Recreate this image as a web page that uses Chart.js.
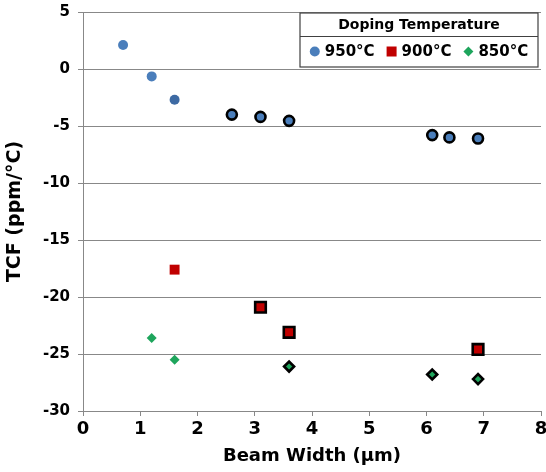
<!DOCTYPE html>
<html><head><meta charset="utf-8">
<script src="https://cdn.jsdelivr.net/npm/chart.js@4.4.0/dist/chart.umd.min.js"></script>
<style>html,body{margin:0;padding:0;background:#fff}#wrap{width:546px;height:472px;position:relative}</style>
</head><body><div id="wrap"><canvas id="c"></canvas></div>
<script>
const legendTitle = 'Doping Temperature';
const seriesLabels = ['950°C', '900°C', '850°C'];
const xAxisTitle = 'Beam Width (µm)';
const yAxisTitle = 'TCF (ppm/°C)';
const xTickValues = [0, 1, 2, 3, 4, 5, 6, 7, 8];
const yTickValues = [5, 0, -5, -10, -15, -20, -25, -30];

// markers without outline
const beam950Plain = [0.7, 1.2, 1.6];
const tcf950Plain = [2.1, -0.65, -2.7];
const beam900Plain = [1.6];
const tcf900Plain = [-17.6];
const beam850Plain = [1.2, 1.6];
const tcf850Plain = [-23.6, -25.5];
// markers with black outline
const beam950Outlined = [2.6, 3.1, 3.6, 6.1, 6.4, 6.9];
const tcf950Outlined = [-4.0, -4.2, -4.55, -5.8, -6.0, -6.1];
const beam900Outlined = [3.1, 3.6, 6.9];
const tcf900Outlined = [-20.9, -23.1, -24.6];
const beam850Outlined = [3.6, 6.1, 6.9];
const tcf850Outlined = [-26.1, -26.8, -27.2];

const pts = (xs, ys) => xs.map((x, i) => ({x: x, y: ys[i]}));
const FONT = '"DejaVu Sans", sans-serif';
const BLUE = '#4a7ebb', RED = '#c00000', GREEN = '#1ea55c';

const datasets = [
  {label: seriesLabels[0], data: pts(beam950Plain, tcf950Plain), pointStyle: 'circle', pointRadius: 5,
   backgroundColor: [BLUE, BLUE, '#3d6aa3'], borderWidth: 0, legend: true},
  {label: seriesLabels[0], data: pts(beam950Outlined, tcf950Outlined), pointStyle: 'circle', pointRadius: 5,
   backgroundColor: BLUE, borderColor: '#000', borderWidth: 2.6},
  {label: seriesLabels[1], data: pts(beam900Plain, tcf900Plain), pointStyle: 'rect', pointRadius: 7,
   backgroundColor: RED, borderWidth: 0, legend: true},
  {label: seriesLabels[1], data: pts(beam900Outlined, tcf900Outlined), pointStyle: 'rect', pointRadius: 7.5,
   backgroundColor: RED, borderColor: '#000', borderWidth: 2.6},
  {label: seriesLabels[2], data: pts(beam850Plain, tcf850Plain), pointStyle: 'rectRot', pointRadius: 5,
   backgroundColor: GREEN, borderWidth: 0, legend: true},
  {label: seriesLabels[2], data: pts(beam850Outlined, tcf850Outlined), pointStyle: 'rectRot', pointRadius: 5,
   backgroundColor: GREEN, borderColor: '#000', borderWidth: 2.6}
];
datasets.forEach(d => { d.pointHoverRadius = d.pointRadius; d.pointBorderWidth = d.borderWidth; });

const boxLegend = {
  id: 'boxLegend',
  afterDraw(chart) {
    const ctx = chart.ctx, a = chart.chartArea;
    const bw = 238, bh = 54;
    const bx = a.right - 3 - bw, by = a.top + 1;
    ctx.save();
    ctx.fillStyle = '#fff';
    ctx.fillRect(bx, by, bw, bh);
    ctx.strokeStyle = '#404040';
    ctx.lineWidth = 1.2;
    ctx.strokeRect(bx, by, bw, bh);
    ctx.beginPath();
    ctx.moveTo(bx, by + 23.5); ctx.lineTo(bx + bw, by + 23.5); ctx.stroke();
    ctx.fillStyle = '#000';
    ctx.textBaseline = 'middle';
    ctx.textAlign = 'center';
    ctx.font = 'bold 14px ' + FONT;
    ctx.fillText(legendTitle, bx + bw / 2, by + 12);
    ctx.font = 'bold 15px ' + FONT;
    ctx.textAlign = 'left';
    const items = chart.data.datasets.filter(d => d.legend);
    const mw = 10, gap = 5, sp = 12;
    const widths = items.map(d => ctx.measureText(d.label).width);
    const total = widths.reduce((s, w) => s + mw + gap + w, 0) + sp * (items.length - 1);
    let x = bx + (bw - total) / 2;
    const cy = by + 38.5;
    items.forEach((d, i) => {
      const cx = x + mw / 2;
      const col = Array.isArray(d.backgroundColor) ? d.backgroundColor[0] : d.backgroundColor;
      ctx.fillStyle = col;
      ctx.beginPath();
      if (d.pointStyle === 'circle') ctx.arc(cx, cy, 5, 0, Math.PI * 2);
      else if (d.pointStyle === 'rect') ctx.rect(cx - 5, cy - 5, 10, 10);
      else { ctx.moveTo(cx - 5, cy); ctx.lineTo(cx, cy - 5); ctx.lineTo(cx + 5, cy); ctx.lineTo(cx, cy + 5); ctx.closePath(); }
      ctx.fill();
      ctx.fillStyle = '#000';
      ctx.fillText(d.label, x + mw + gap, cy + 1);
      x += mw + gap + widths[i] + sp;
    });
    ctx.restore();
  }
};

new Chart(document.getElementById('c'), {
  type: 'scatter',
  data: {datasets: datasets},
  options: {
    responsive: true, maintainAspectRatio: false, animation: false,
    layout: {autoPadding: false, padding: {left: 0, right: 5, top: 12, bottom: 0}},
    plugins: {legend: {display: false}, tooltip: {enabled: false}},
    scales: {
      x: {
        type: 'linear', min: 0, max: 8,
        afterBuildTicks: s => { s.ticks = xTickValues.map(v => ({value: v})); },
        afterFit: s => {
          s.height = 61; s.paddingLeft = 0; s.paddingRight = 0;
          if (s._margins) { s._margins.right = 5; s.width = s.chart.width - s._margins.left - 5; }
        },
        ticks: {color: '#000', font: {family: FONT, size: 18, weight: 'bold'}, padding: 3, maxRotation: 0},
        grid: {drawOnChartArea: false, drawTicks: true, tickLength: 5, color: '#888'},
        border: {color: '#888'},
        title: {display: true, text: xAxisTitle, color: '#000', font: {family: FONT, size: 18, weight: 'bold'}, padding: {top: 0, bottom: 5}}
      },
      y: {
        type: 'linear', min: -30, max: 5,
        afterBuildTicks: s => { s.ticks = yTickValues.slice().reverse().map(v => ({value: v})); },
        afterFit: s => { s.width = 83; s.paddingTop = 0; s.paddingBottom = 0; },
        ticks: {color: '#000', font: {family: FONT, size: 15, weight: 'bold'}, padding: 8},
        grid: {color: '#888', tickLength: 5},
        border: {color: '#888'},
        title: {display: true, text: yAxisTitle, color: '#000', font: {family: FONT, size: 19, weight: 'bold'}, padding: {top: 4, bottom: 0}}
      }
    }
  },
  plugins: [boxLegend]
});
</script></body></html>
